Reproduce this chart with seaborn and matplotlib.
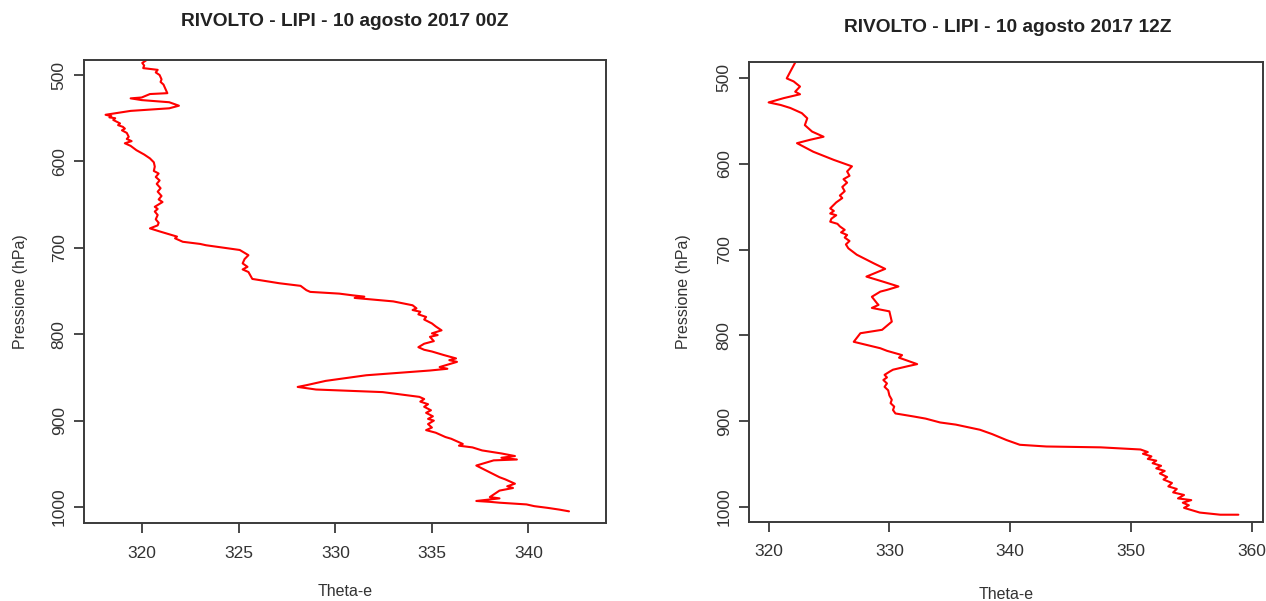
import matplotlib
matplotlib.use("Agg")
import matplotlib.pyplot as plt
import seaborn as sns
import pandas as pd

# ---- data ----
left_theta = [320.2, 320.0, 320.1, 320.05, 320.8, 320.7, 320.9, 321.0, 320.95, 321.1,
              321.2, 321.3, 320.4, 319.97, 319.4, 319.97, 321.4, 321.9, 321.4, 319.4,
              318.1, 318.4, 318.3, 318.6, 318.5, 318.85, 318.75, 319.0, 319.1, 318.95,
              319.2, 319.3, 319.2, 319.45, 319.1, 319.4, 319.7, 320.1, 320.4, 320.6,
              320.65, 320.6, 320.85, 320.7, 320.9, 320.75, 320.95, 320.8, 321.0, 320.85,
              321.05, 320.65, 320.8, 320.65, 320.8, 320.7, 320.85, 320.8, 320.4, 320.9,
              321.8, 321.7, 322.1, 323.0, 323.3, 325.05, 325.5, 325.3, 325.2, 325.45,
              325.2, 325.5, 325.7, 327.1, 328.2, 328.5, 328.7, 330.2, 330.9, 331.5,
              331.0, 332.0, 333.0, 334.0, 334.2, 334.0, 334.4, 334.3, 334.7, 334.6,
              335.0, 335.2, 335.5, 335.0, 335.3, 334.9, 335.1, 334.6, 334.3, 334.6,
              335.0, 335.6, 336.25, 335.9, 336.3, 335.4, 335.8, 334.9, 331.6, 329.5,
              328.5, 328.05, 329.0, 332.45, 334.35, 334.6, 334.4, 334.8, 334.6, 334.95,
              334.7, 335.05, 334.8, 335.1, 334.8, 335.0, 334.7, 335.2, 335.7, 336.0,
              336.6, 336.4, 337.1, 337.6, 338.6, 339.3, 338.6, 339.4, 338.2, 337.3,
              338.5, 338.8, 339.3, 338.9, 339.2, 338.5, 338.3, 338.0, 338.5, 337.3,
              338.0, 338.5, 339.9, 340.3, 341.0, 341.6, 342.1]
left_p = [483, 486, 489, 492, 494, 497, 500, 505, 508, 511,
          516, 521, 522, 526, 527, 529, 531.5, 535.5, 538.5, 541.5,
          546, 547.5, 549, 550, 552, 556, 558, 560, 562, 564,
          567, 571.5, 574, 576.5, 579, 582, 587, 592, 596.5, 601,
          606, 611, 614, 618, 622, 626, 631, 635, 640, 644,
          647, 652.5, 655, 658, 662, 667, 671, 674, 677.5, 681,
          687, 689, 693, 695.5, 697, 702.5, 708.5, 713, 718, 722,
          725, 728, 736, 741, 744, 749, 751, 753, 755, 756.5,
          758, 760, 762, 766.5, 770, 772, 774, 777, 780, 783,
          787.5, 791, 795.5, 799, 801, 803, 808, 811, 815, 818,
          820, 824, 828, 830, 832, 838, 840, 842, 847.5, 854,
          859, 861, 864, 867, 872.5, 875, 878, 881, 884, 888,
          891, 895, 898, 900, 904, 908, 911, 914, 919, 921,
          927, 929, 931, 934.5, 938, 941, 943, 945, 946, 952,
          965.5, 968, 973, 976, 978, 981, 984, 988.5, 990, 993,
          994, 995, 997, 999, 1001, 1003, 1005]

right_theta = [322.2, 321.8, 321.5, 322.07, 322.6, 322.2, 322.6, 321.25, 320.0, 321.0,
               321.8, 322.75, 323.2, 323.0, 323.6, 324.55, 323.45, 322.35, 323.7, 325.4,
               326.9, 326.5, 326.7, 326.2, 326.5, 326.1, 326.3, 325.9, 326.1, 325.6,
               325.1, 325.4, 325.1, 325.6, 325.2, 325.1, 325.7, 325.9, 326.3, 326.0,
               326.5, 326.3, 326.7, 326.4, 326.6, 327.3, 328.7, 329.65, 328.1, 329.5,
               330.75, 329.8, 329.25, 328.55, 328.97, 329.1, 328.55, 330.0, 330.2, 329.4,
               327.6, 327.05, 329.25, 329.8, 331.05, 330.8, 332.3, 331.5, 330.3, 330.05,
               329.6, 329.8, 329.5, 329.8, 329.6, 329.9, 330.0, 330.2, 330.1, 330.4,
               330.3, 330.5, 332.0, 333.0, 334.2, 335.5, 337.5, 338.5, 339.7, 340.8,
               343.0, 347.5, 350.8, 351.4, 351.0, 351.7, 351.4, 352.1, 351.8, 352.5,
               352.1, 352.8, 352.4, 353.0, 352.7, 353.4, 353.1, 353.8, 353.5, 354.4,
               353.9, 355.0, 354.3, 354.8, 354.4, 355.7, 357.4, 358.9]
right_p = [482, 492.5, 500.5, 504, 510, 516, 519, 523.5, 528.5, 531.5,
           535, 541, 547, 555, 562.5, 568.5, 572, 576, 586, 595.5,
           603, 609, 614, 618, 622, 627, 632, 637, 640, 645,
           652, 655, 658, 660, 664, 667.5, 670, 673, 677, 680,
           683, 686, 690, 694, 698.5, 706, 716, 722.5, 731.5, 737.5,
           743, 747, 749, 755, 762.5, 764.5, 768, 772, 784, 793.5,
           797.5, 807.5, 815, 818, 823, 826, 833.5, 836, 840, 842,
           846, 849, 852, 856, 860, 864, 870, 875, 879, 883,
           887, 891, 894.5, 897, 901.5, 904, 910, 915, 922, 927.5,
           929.5, 930.5, 933, 936, 938, 941, 944, 946, 949, 952,
           955, 958, 961, 965, 968, 972, 976, 979, 983, 986,
           990, 992, 995, 998, 1001, 1006.5, 1009, 1009]

titles = ["RIVOLTO - LIPI - 10 agosto 2017 00Z", "RIVOLTO - LIPI - 10 agosto 2017 12Z"]
left_xticks = [320, 325, 330, 335, 340]
right_xticks = [320, 330, 340, 350, 360]
yticks = [500, 600, 700, 800, 900, 1000]

# ---- style ----
sns.set_theme(style="ticks")
plt.rcParams["font.family"] = ["Liberation Sans", "DejaVu Sans"]
edge = "#3a3a3a"

W, H = 1266, 601
fig = plt.figure(figsize=(W / 100, H / 100), dpi=100)
fig.patch.set_facecolor("white")

def frac(x0, y0, x1, y1):
    return [x0 / W, 1 - y1 / H, (x1 - x0) / W, (y1 - y0) / H]

panels = [
    dict(rect=frac(84.3, 60, 605.7, 523), theta=left_theta, p=left_p, xlim=(317.0, 344.0),
         ylim=(1018.5, 482.6), xticks=left_xticks, title=titles[0], tpos=(345, 22),
         xlab_y=-0.132, ylab_x=-0.108),
    dict(rect=frac(749.3, 62, 1263, 522), theta=right_theta, p=right_p, xlim=(318.4, 360.94),
         ylim=(1017.5, 481.4), xticks=right_xticks, title=titles[1], tpos=(1008, 28),
         xlab_y=-0.141, ylab_x=-0.113),
]

for pn in panels:
    ax = fig.add_axes(pn["rect"])
    df = pd.DataFrame({"theta": pn["theta"], "p": pn["p"]})
    sns.lineplot(data=df, x="theta", y="p", sort=False, estimator=None,
                 color="#ff0000", lw=1.5, ax=ax)
    ax.set_xlim(*pn["xlim"])
    ax.set_ylim(*pn["ylim"])
    ax.set_xticks(pn["xticks"])
    ax.set_yticks(yticks)
    ax.set_yticklabels([str(v) for v in yticks], rotation=90, va="center")
    for s in ax.spines.values():
        s.set_visible(True)
        s.set_color(edge)
        s.set_linewidth(1.4)
    ax.tick_params(axis="both", colors=edge, length=7.2, width=1.3, labelsize=12.5,
                   labelcolor="#333333")
    ax.tick_params(axis="x", pad=9)
    ax.tick_params(axis="y", pad=5.5)
    ax.set_xlabel("Theta-e", fontsize=11.5, color="#333333")
    ax.set_ylabel("Pressione (hPa)", fontsize=11.5, color="#333333")
    ax.xaxis.set_label_coords(0.5, pn["xlab_y"])
    ax.yaxis.set_label_coords(pn["ylab_x"], 0.5)
    ax.grid(False)
    fig.text(pn["tpos"][0] / W, 1 - pn["tpos"][1] / H, pn["title"], ha="center", va="center",
             fontsize=13.8, fontweight="bold", color="#222222")

fig.savefig("out.png", dpi=100, facecolor="white")
